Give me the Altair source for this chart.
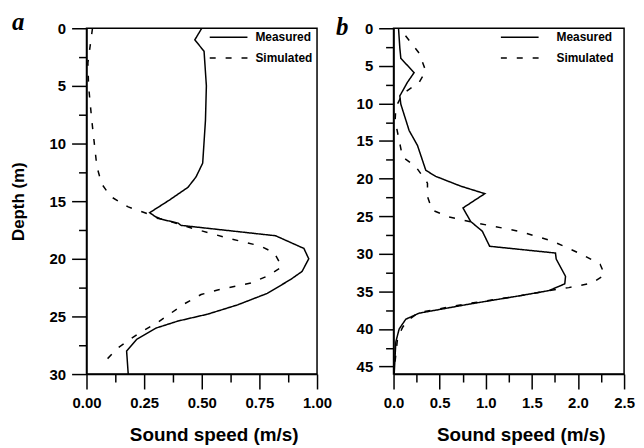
import altair as alt
import pandas as pd

# ---------------- Panel a ----------------
a_meas_depth = [0, 1, 2, 5, 8, 11.7, 12.9, 13.8, 14.9, 16.0, 16.5, 16.9, 17.1, 18.0,
                19.1, 20.0, 21.1, 21.8, 23.0, 24.0, 24.8, 25.4, 26.0, 27.0, 28.0, 30.0]
a_meas_speed = [0.50, 0.47, 0.51, 0.52, 0.516, 0.504, 0.475, 0.44, 0.36, 0.274, 0.31,
                0.397, 0.41, 0.82, 0.943, 0.964, 0.935, 0.885, 0.784, 0.655, 0.526,
                0.397, 0.303, 0.217, 0.174, 0.181]
a_sim_depth = [0, 3, 5, 8, 12, 13.5, 14.6, 15.5, 16.0, 16.5, 17.4, 18.2, 18.9, 19.5,
               20.7, 21.5, 22.1, 22.7, 23.1, 23.9, 25.5, 26.5, 27.7, 29.1]
a_sim_speed = [0.026, 0.006, 0.009, 0.023, 0.045, 0.066, 0.105, 0.181, 0.253, 0.318,
               0.468, 0.612, 0.756, 0.815, 0.848, 0.784, 0.713, 0.569, 0.497, 0.425,
               0.31, 0.224, 0.138, 0.07]

# ---------------- Panel b ----------------
b_meas_depth = [0, 2.6, 4.0, 5.9, 7.2, 9.0, 10.1, 13.6, 15.6, 18.9, 19.7, 21.0, 22.0,
                23.9, 25.7, 27.0, 29.0, 29.9, 30.7, 33.0, 34.0, 34.9, 35.6, 36.7,
                37.9, 38.7, 40.0, 41.7, 46.0]
b_meas_speed = [0.054, 0.068, 0.079, 0.223, 0.15, 0.068, 0.079, 0.169, 0.26, 0.35,
                0.458, 0.728, 0.99, 0.753, 0.836, 0.963, 1.042, 1.756, 1.764, 1.865,
                1.857, 1.684, 1.36, 0.818, 0.277, 0.133, 0.061, 0.025, 0.007]
b_sim_depth = [1.0, 3.3, 5.7, 7.2, 8.75, 10.5, 12.3, 14.9, 17.1, 18.4, 20.6, 22.4,
               24.2, 25.1, 25.8, 27.0, 28.3, 30.1, 31.4, 32.8, 33.9, 34.5, 34.9,
               35.6, 36.6, 37.8, 38.9, 39.8, 41.3, 45.7]
b_sim_speed = [0.13, 0.277, 0.35, 0.277, 0.097, 0.025, 0.017, 0.061, 0.097, 0.241,
               0.368, 0.368, 0.42, 0.6, 0.855, 1.36, 1.72, 2.045, 2.24, 2.29, 2.15,
               1.9, 1.684, 1.36, 0.818, 0.277, 0.15, 0.097, 0.043, 0.005]

series_names = ["Measured", "Simulated"]

a_x_major = [0, 0.25, 0.5, 0.75, 1.0]
a_x_minor = [0.125, 0.375, 0.625, 0.875]
a_y_major = [0, 5, 10, 15, 20, 25, 30]
a_y_minor = [2.5, 7.5, 12.5, 17.5, 22.5, 27.5]
b_x_major = [0, 0.5, 1.0, 1.5, 2.0, 2.5]
b_x_minor = [0.25, 0.75, 1.25, 1.75, 2.25]
b_y_major = [0, 5, 10, 15, 20, 25, 30, 35, 40, 45]
b_y_minor = [2.5, 7.5, 12.5, 17.5, 22.5, 27.5, 32.5, 37.5, 42.5]

W, H = 232, 348
MAJOR, MINOR = 15, 8
FONT = "Liberation Sans"


def frame(md, ms, sd, ss):
    return pd.concat([
        pd.DataFrame({"depth": md, "speed": ms, "series": series_names[0]}),
        pd.DataFrame({"depth": sd, "speed": ss, "series": series_names[1]}),
    ], ignore_index=True)


def panel(df, xdomain, xmaj, xmin, xfmt, ydomain, ymaj, ymin, ytitle,
          letter, letter_x, letter_y, leg_x, leg_y, lab_off):
    xs = alt.Scale(domain=xdomain, nice=False, zero=False)
    ys = alt.Scale(domain=ydomain, nice=False, zero=False, reverse=True)
    common = dict(tickColor="black", tickWidth=1.5, tickOpacity=1, domainColor="black",
                  domainWidth=1.5, grid=False, zindex=1, labelFlush=False, labelOverlap=False,
                  labelFont=FONT, labelFontSize=15, labelFontWeight="bold", labelColor="black",
                  titleFont=FONT, titleFontWeight="bold", titleColor="black")
    # major axes (with labels) and minor axes (ticks only) share one scale each
    x_major = alt.Axis(values=xmaj, format=xfmt, title="Sound speed (m/s)", orient="bottom",
                       ticks=True, tickSize=MAJOR, labelPadding=7, titlePadding=15,
                       titleFontSize=19, titleX=W / 2 + 12, **common)
    x_minor = alt.Axis(values=xmin, labels=False, domain=False, title=None, orient="bottom",
                       ticks=True, tickSize=MINOR, tickColor="black", tickWidth=1.5,
                       tickOpacity=1, grid=False, zindex=1)
    y_major = alt.Axis(values=ymaj, format="d", title=ytitle, orient="left",
                       ticks=True, tickSize=MAJOR, labelPadding=6, titlePadding=22,
                       titleFontSize=17, **common)
    y_minor = alt.Axis(values=ymin, labels=False, domain=False, title=None, orient="left",
                       ticks=True, tickSize=MINOR, tickColor="black", tickWidth=1.5,
                       tickOpacity=1, grid=False, zindex=1)

    lines = alt.Chart(df).mark_line(color="black", strokeWidth=1.5).encode(
        x=alt.X("speed:Q", scale=xs, axis=x_major),
        y=alt.Y("depth:Q", scale=ys, axis=y_major),
        strokeDash=alt.StrokeDash(
            "series:N",
            scale=alt.Scale(domain=series_names, range=[[1, 0], [6, 10]]),
            legend=alt.Legend(
                title=None, orient="none", legendX=leg_x, legendY=leg_y,
                symbolType="M-3.04,0L3.04,0", symbolSize=156, symbolStrokeWidth=1.5,
                symbolStrokeColor="black", symbolFillColor="transparent",
                labelOffset=lab_off, rowPadding=8, padding=0,
                labelFont=FONT, labelFontSize=12, labelFontWeight="bold", labelColor="black",
            ),
        ),
        order=alt.Order("depth:Q"),
    )
    minor = alt.Chart(df).mark_line(strokeOpacity=0).encode(
        x=alt.X("speed:Q", scale=xs, axis=x_minor),
        y=alt.Y("depth:Q", scale=ys, axis=y_minor),
        detail="series:N",
        order=alt.Order("depth:Q"),
    )
    tag = alt.Chart(pd.DataFrame({"letter": [letter]})).mark_text(
        font="Liberation Serif", fontSize=25, fontWeight="bold", fontStyle="italic",
        align="left", baseline="alphabetic", color="black",
    ).encode(text="letter:N", x=alt.value(letter_x), y=alt.value(letter_y))
    return alt.layer(lines, minor, tag).resolve_axis(
        x="independent", y="independent"
    ).properties(width=W, height=H)


pa = panel(frame(a_meas_depth, a_meas_speed, a_sim_depth, a_sim_speed),
           [0, 1], a_x_major, a_x_minor, ".2f", [0, 30], a_y_major, a_y_minor, "Depth (m)",
           "a", -75, 2, 136, 2, 20)
pb = panel(frame(b_meas_depth, b_meas_speed, b_sim_depth, b_sim_speed),
           [0, 2.5], b_x_major, b_x_minor, ".1f", [0, 46], b_y_major, b_y_minor, None,
           "b", -58, 7, 120, 2, 30)

chart = alt.hconcat(pa, pb, spacing=2).resolve_legend(strokeDash="independent").configure(
    padding={"left": 0, "top": 0, "right": 0, "bottom": 0}
).configure_view(stroke="black", strokeWidth=1.5)

chart.save("out.html", embed_options={"renderer": "svg", "actions": False})
